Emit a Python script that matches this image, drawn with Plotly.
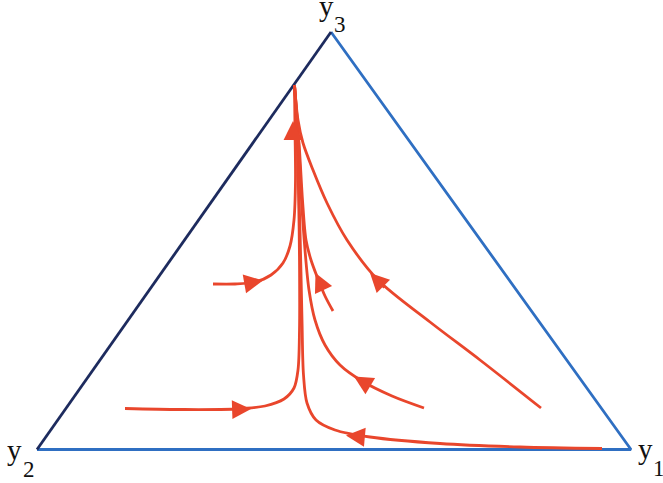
import plotly.graph_objects as go

# Triangle vertices (canvas coordinates, y downward)
vert_x = [37, 631, 331]   # y2, y1, y3
vert_y = [449.5, 449.5, 32]

# Trajectories
trajA_x = [125, 180, 235, 265, 284, 294, 298, 299.5, 299.5, 298.5, 297, 294.5]
trajA_y = [408.5, 409.5, 409, 406, 399, 388, 370, 330, 260, 190, 130, 85]

trajB_x = [213, 235, 255, 271, 283, 290, 294, 295.5, 295, 294.5]
trajB_y = [284, 284, 282, 275, 263, 246, 220, 180, 130, 85]

trajC_x = [602, 520, 440, 370, 335, 316, 307, 303.5, 302, 300, 297.5, 294.5]
trajC_y = [448.5, 447, 443.5, 437, 430, 420, 403, 375, 320, 230, 150, 85]

trajD_x = [424, 392, 362, 340, 325, 315, 309, 305, 301.5, 298.5, 294.5]
trajD_y = [408, 396, 381, 365, 345, 320, 290, 250, 200, 140, 85]

trajE_x = [333, 325, 318, 311, 306, 302.5, 299.5, 294.5]
trajE_y = [311, 296, 279, 260, 240, 200, 150, 85]

trajF_x = [541, 480, 430, 378, 347, 327, 313, 303, 298, 294.5]
trajF_y = [408, 360, 322, 280, 240, 203, 170, 143, 120, 85]

# Arrow heads: tip and tail points
arrow_tip_x = [251, 263, 346, 354, 315.5, 370, 293]
arrow_tip_y = [409, 280.5, 435.5, 376.5, 273, 273, 121]
arrow_tail_x = [236, 249, 362, 370, 323, 386, 293]
arrow_tail_y = [409.5, 283, 437, 386, 289, 289, 141]

# Vertex labels: letter and index
label_text = ["y", "y", "y"]
label_x = [326, 14.5, 645]
label_y = [6, 449.5, 448.5]
index_text = ["3", "2", "1"]
index_x = [333.25, 21.75, 652.25]
index_y = [24, 469, 468]

RED = "#e9462c"
BLUE = "#2f6fc2"
NAVY = "#1d2b5e"

fig = go.Figure()

# Triangle edges
fig.add_trace(go.Scatter(x=[vert_x[0], vert_x[1], vert_x[2]], y=[vert_y[0], vert_y[1], vert_y[2]],
                         mode="lines", line=dict(color=BLUE, width=2.8), hoverinfo="skip"))
fig.add_trace(go.Scatter(x=[vert_x[0], vert_x[2]], y=[vert_y[0], vert_y[2]],
                         mode="lines", line=dict(color=NAVY, width=2.8), hoverinfo="skip"))

for tx, ty in [(trajA_x, trajA_y), (trajB_x, trajB_y), (trajC_x, trajC_y),
               (trajD_x, trajD_y), (trajE_x, trajE_y), (trajF_x, trajF_y)]:
    fig.add_trace(go.Scatter(x=tx, y=ty, mode="lines",
                             line=dict(color=RED, width=2.8, shape="spline", smoothing=0.9),
                             hoverinfo="skip"))

for hx, hy, tx, ty in zip(arrow_tip_x, arrow_tip_y, arrow_tail_x, arrow_tail_y):
    fig.add_annotation(x=hx, y=hy, ax=tx, ay=ty, xref="x", yref="y", axref="x", ayref="y",
                       text="", showarrow=True, arrowhead=2, arrowsize=1.35,
                       arrowwidth=2.8, arrowcolor=RED, standoff=0, startstandoff=0)

for t, x, y in zip(label_text, label_x, label_y):
    fig.add_annotation(x=x, y=y, xref="x", yref="y", text=t, showarrow=False,
                       font=dict(family="Liberation Serif", size=29, color="#111111"),
                       xanchor="center", yanchor="middle", borderpad=0)
for t, x, y in zip(index_text, index_x, index_y):
    fig.add_annotation(x=x, y=y, xref="x", yref="y", text=t, showarrow=False,
                       font=dict(family="Liberation Serif", size=23, color="#111111"),
                       xanchor="left", yanchor="middle", borderpad=0)

fig.update_layout(
    width=663, height=483,
    margin=dict(l=0, r=0, t=0, b=0),
    paper_bgcolor="white", plot_bgcolor="white",
    showlegend=False,
    xaxis=dict(range=[0, 663], visible=False, fixedrange=True),
    yaxis=dict(range=[483, 0], visible=False, fixedrange=True),
)

fig.write_html("out.html", config={"displayModeBar": False},
               post_script="document.body.style.margin='0';document.body.style.overflow='hidden';")
